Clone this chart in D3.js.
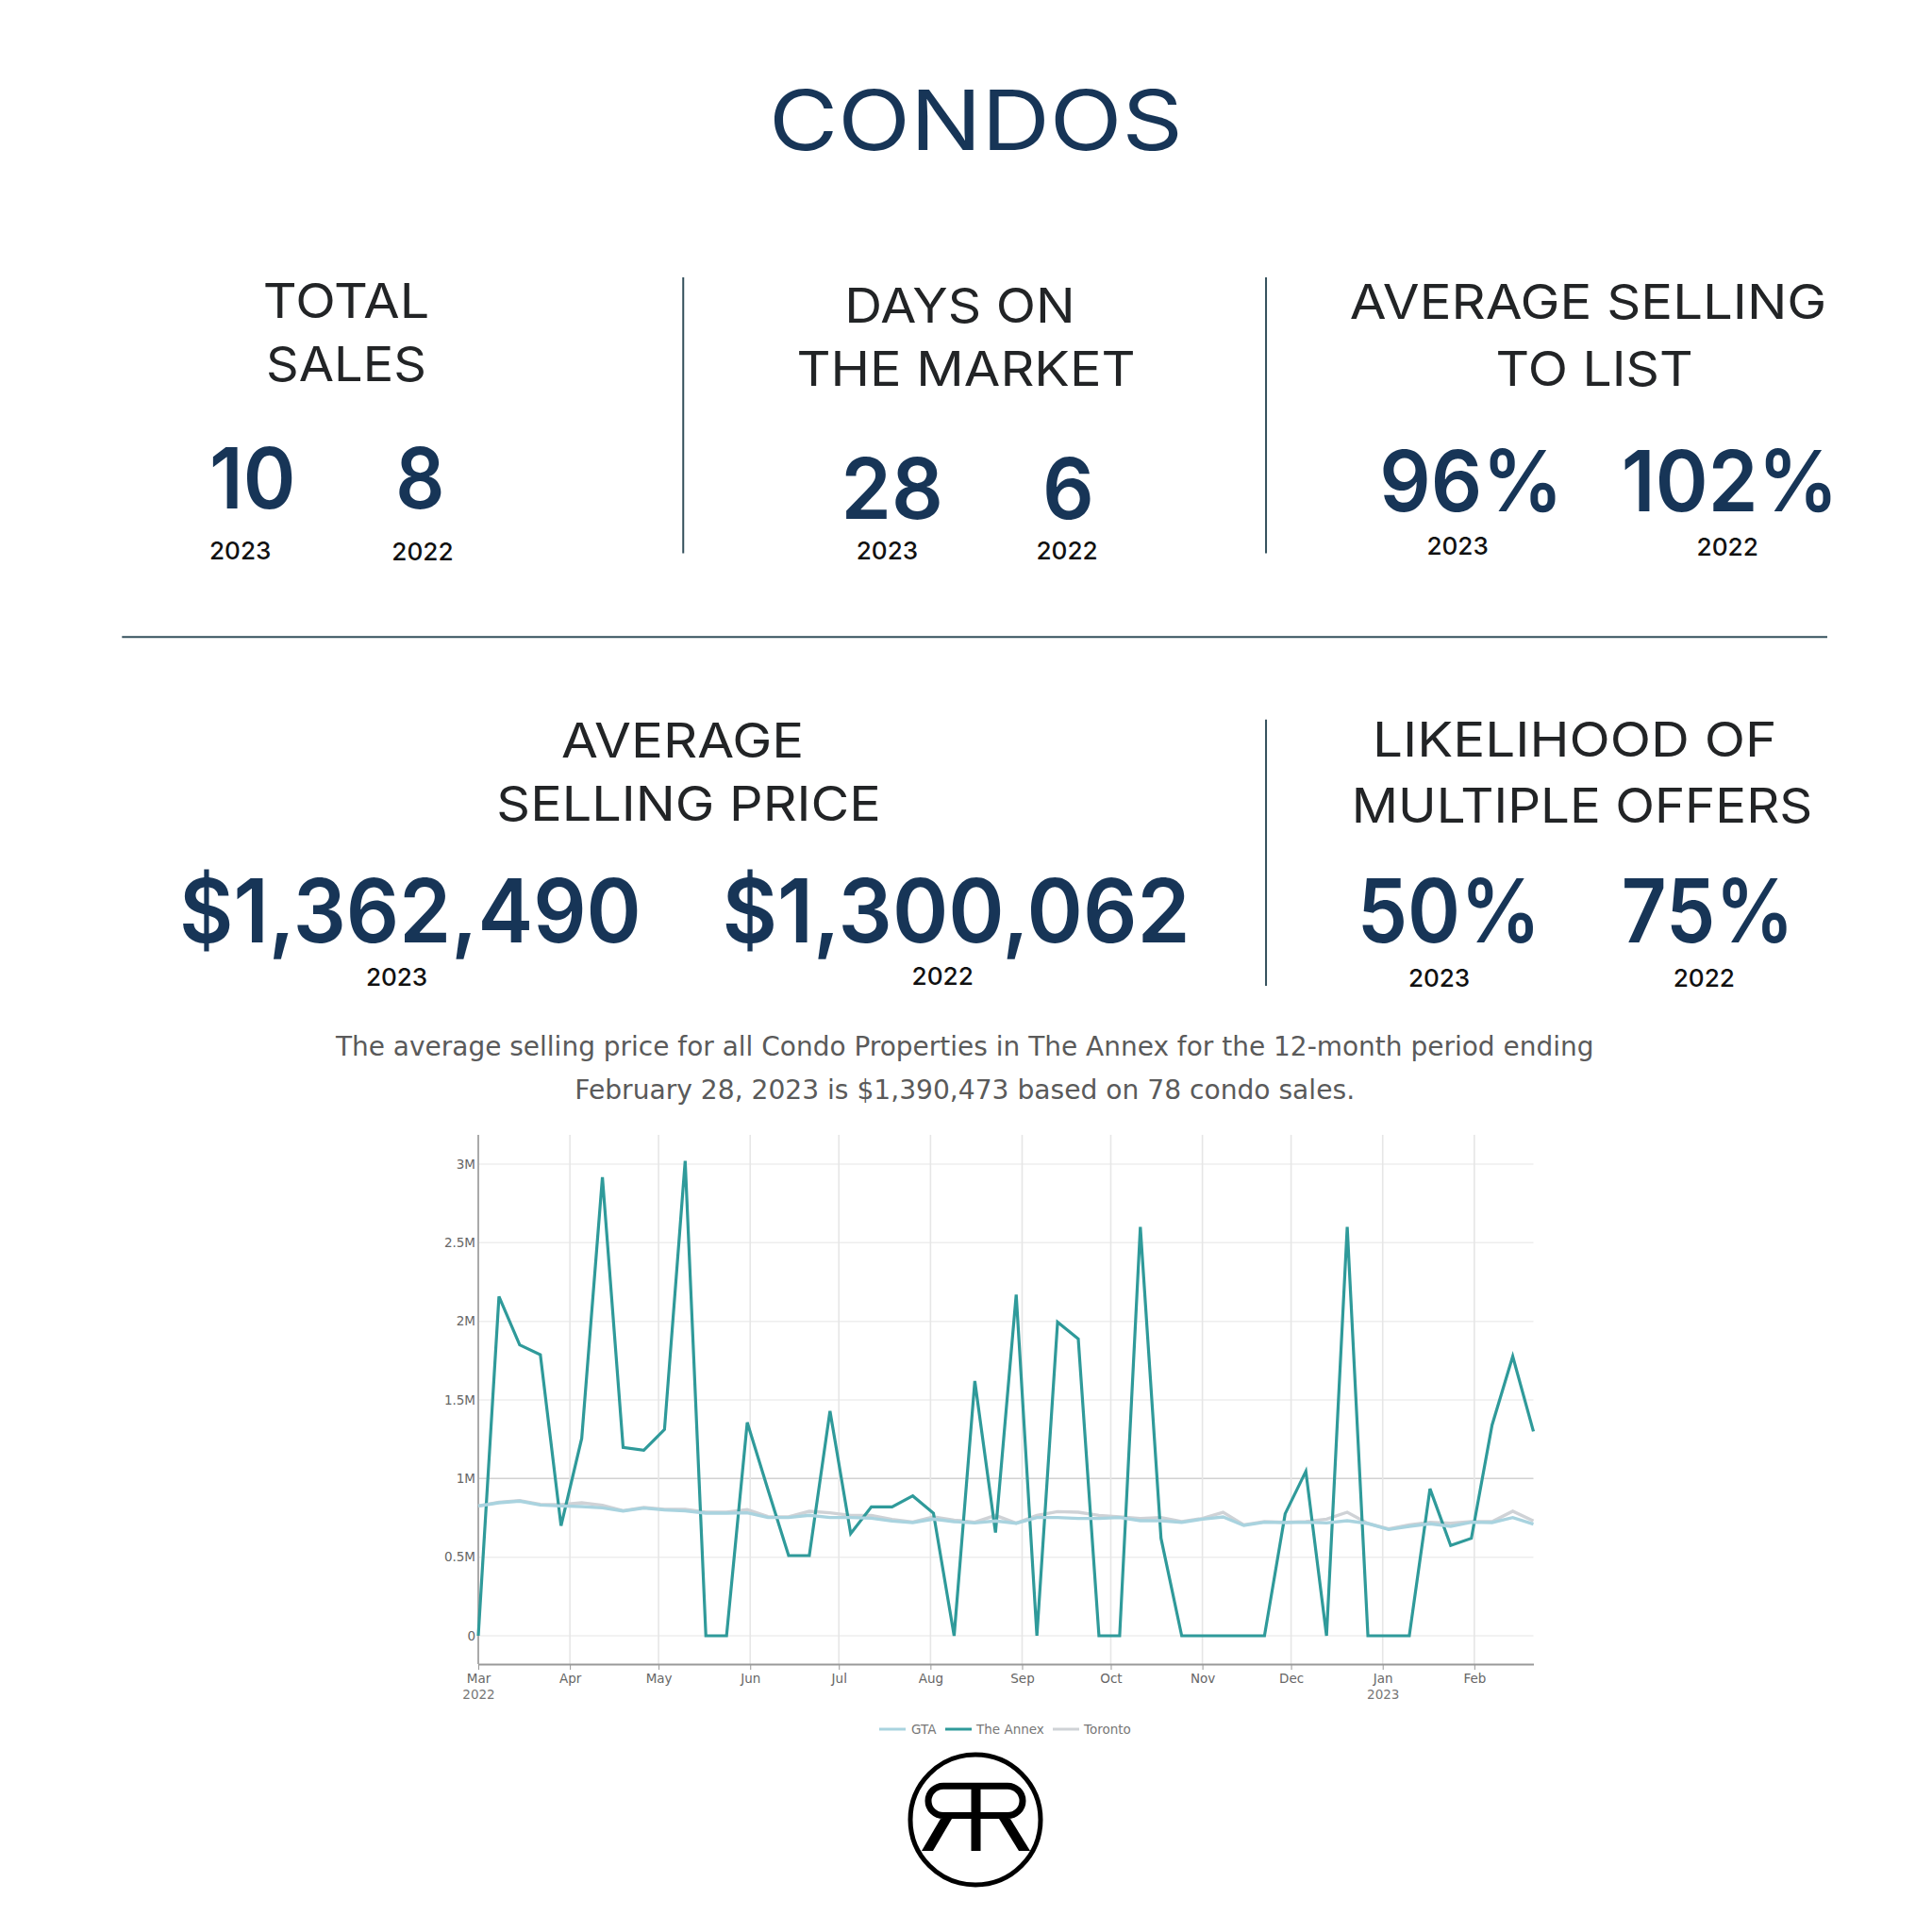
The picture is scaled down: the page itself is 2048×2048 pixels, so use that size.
<!DOCTYPE html>
<html>
<head>
<meta charset="utf-8">
<script src="https://cdn.jsdelivr.net/npm/d3@7"></script>
<style>
  html, body { margin: 0; background: #fff; }
</style>
</head>
<body>
<div id="chart"></div>
<script>
// weekly dates, Mar 1 2022 to Feb 21 2023
const startDate = new Date(2022, 2, 1);
const dates = d3.range(52).map((i) => d3.timeDay.offset(startDate, i * 7));

const annex = [
  0, 2.158, 1.85, 1.787, 0.7, 1.256, 2.917, 1.198, 1.18, 1.312, 3.02, 0, 0,
  1.357, 0.93, 0.51, 0.51, 1.43, 0.65, 0.82, 0.82, 0.89, 0.78, 0, 1.62, 0.657,
  2.17, 0, 1.995, 1.888, 0, 0, 2.6, 0.62, 0, 0, 0, 0, 0, 0.776, 1.046, 0, 2.6,
  0, 0, 0, 0.935, 0.574, 0.62, 1.34, 1.777, 1.3,
];
const gta = [
  0.826, 0.846, 0.856, 0.832, 0.826, 0.822, 0.814, 0.794, 0.812, 0.8, 0.794,
  0.78, 0.78, 0.782, 0.752, 0.752, 0.766, 0.752, 0.752, 0.748, 0.73, 0.72,
  0.742, 0.726, 0.718, 0.73, 0.716, 0.752, 0.752, 0.746, 0.746, 0.752, 0.732,
  0.732, 0.722, 0.742, 0.756, 0.702, 0.722, 0.72, 0.722, 0.718, 0.732, 0.714,
  0.676, 0.696, 0.712, 0.696, 0.722, 0.72, 0.752, 0.71,
];
const toronto = [
  0.826, 0.85, 0.86, 0.836, 0.834, 0.846, 0.83, 0.796, 0.816, 0.804, 0.804,
  0.786, 0.786, 0.802, 0.758, 0.756, 0.792, 0.782, 0.766, 0.766, 0.74, 0.724,
  0.756, 0.736, 0.722, 0.766, 0.716, 0.766, 0.79, 0.786, 0.766, 0.756, 0.746,
  0.752, 0.726, 0.746, 0.786, 0.706, 0.726, 0.722, 0.726, 0.742, 0.786, 0.714,
  0.68, 0.706, 0.722, 0.716, 0.726, 0.726, 0.792, 0.73,
];

const yTicks = [0, 0.5, 1, 1.5, 2, 2.5, 3];
const monthTicks = d3.timeMonth.range(new Date(2022, 2, 1), new Date(2023, 2, 1));

const legendNames = ["GTA", "The Annex", "Toronto"];
const colors = { gta: "#a9d3df", annex: "#2f9a9a", toronto: "#cfd2d6" };
const navy = "#173557";
const ink = "#222426";
const rule = "#34505c";

const k = 2048 / 1568;

const svg = d3
  .select("#chart")
  .append("svg")
  .attr("width", 2048)
  .attr("height", 2048)
  .style("display", "block");

// x, y are baseline centre and w the wanted width, all in 1568 space
function txt(str, cx, y, w, size, fill, weight) {
  svg
    .append("text")
    .attr("x", cx * k)
    .attr("y", y * k)
    .attr("text-anchor", "middle")
    .attr("font-family", "Inter, 'Open Sans', sans-serif")
    .attr("font-size", size)
    .attr("font-weight", weight)
    .attr("fill", fill)
    .attr("textLength", w * k)
    .attr("lengthAdjust", "spacingAndGlyphs")
    .text(str);
}

txt("CONDOS", 792, 122, 336, 88, navy, 400);

// section headings
txt("TOTAL", 281, 258, 135, 51, ink, 400);
txt("SALES", 281, 309, 130, 51, ink, 400);
txt("DAYS ON", 779, 262, 187, 51, ink, 400);
txt("THE MARKET", 784, 313, 275, 51, ink, 400);
txt("AVERAGE SELLING", 1289, 259, 387, 51, ink, 400);
txt("TO LIST", 1294, 313, 160, 51, ink, 400);
txt("AVERAGE", 554, 615, 197, 51, ink, 400);
txt("SELLING PRICE", 559, 666, 312, 51, ink, 400);
txt("LIKELIHOOD OF", 1278, 614, 328, 51, ink, 400);
txt("MULTIPLE OFFERS", 1284, 668, 374, 51, ink, 400);

// big numbers
txt("10", 205, 413, 70, 90, navy, 600);
txt("8", 341, 413, 40, 90, navy, 600);
txt("28", 724, 421, 83, 90, navy, 600);
txt("6", 867, 421, 42, 90, navy, 600);
txt("96%", 1194, 415, 149, 90, navy, 600);
txt("102%", 1404, 415, 176, 90, navy, 600);
txt("$1,362,490", 333, 765, 375, 94, navy, 600);
txt("$1,300,062", 776, 765, 380, 94, navy, 600);
txt("50%", 1176, 765, 149, 94, navy, 600);
txt("75%", 1386, 765, 140, 94, navy, 600);

// years under the numbers
txt("2023", 195, 454, 50, 26, "#111", 500);
txt("2022", 343, 455, 50, 26, "#111", 500);
txt("2023", 720, 454, 50, 26, "#111", 500);
txt("2022", 866, 454, 50, 26, "#111", 500);
txt("2023", 1183, 450, 50, 26, "#111", 500);
txt("2022", 1402, 451, 50, 26, "#111", 500);
txt("2023", 322, 800, 50, 26, "#111", 500);
txt("2022", 765, 799, 50, 26, "#111", 500);
txt("2023", 1168, 801, 50, 26, "#111", 500);
txt("2022", 1383, 801, 50, 26, "#111", 500);

// dividers
[
  [554.5, 225, 554.5, 449],
  [1027.5, 225, 1027.5, 449],
  [99, 517, 1483, 517],
  [1027.5, 584, 1027.5, 800],
].forEach((d) => {
  svg
    .append("line")
    .attr("x1", d[0] * k)
    .attr("y1", d[1] * k)
    .attr("x2", d[2] * k)
    .attr("y2", d[3] * k)
    .attr("stroke", rule)
    .attr("stroke-width", 2);
});

// sentence above the chart
const noteLines = [
  "The average selling price for all Condo Properties in The Annex for the 12-month period ending",
  "February 28, 2023 is $1,390,473 based on 78 condo sales.",
];
[
  [783, 857, 1021],
  [783, 892, 633],
].forEach((p, i) => {
  svg
    .append("text")
    .attr("x", p[0] * k)
    .attr("y", p[1] * k)
    .attr("text-anchor", "middle")
    .attr("font-family", "'DejaVu Sans', sans-serif")
    .attr("font-size", 28)
    .attr("fill", "#5a5a5a")
    .attr("textLength", p[2] * k)
    .attr("lengthAdjust", "spacingAndGlyphs")
    .text(noteLines[i]);
});

// line chart
const plotLeft = 507;
const plotRight = 1625.5;
const plotTop = 1203;
const plotBottom = 1764;

const xScale = d3
  .scaleTime()
  .domain([dates[0], dates[dates.length - 1]])
  .range([plotLeft, plotRight]);
const yScale = d3.scaleLinear().domain([0, 3]).range([1734, 1234]);

const chartFont = "'DejaVu Sans', Verdana, sans-serif";

svg
  .append("g")
  .selectAll("line")
  .data(yTicks)
  .enter()
  .append("line")
  .attr("x1", plotLeft)
  .attr("x2", plotRight)
  .attr("y1", (d) => yScale(d))
  .attr("y2", (d) => yScale(d))
  .attr("stroke", (d) => (d === 1 ? "#d2d2d2" : "#eeeeee"))
  .attr("stroke-width", 1.5);

svg
  .append("g")
  .selectAll("line")
  .data(monthTicks)
  .enter()
  .append("line")
  .attr("x1", (d) => xScale(d))
  .attr("x2", (d) => xScale(d))
  .attr("y1", plotTop)
  .attr("y2", plotBottom)
  .attr("stroke", "#e6e6e6")
  .attr("stroke-width", 1.6);

const xAxis = d3
  .axisBottom(xScale)
  .tickValues(monthTicks)
  .tickSize(6)
  .tickSizeOuter(0)
  .tickFormat(d3.timeFormat("%b"));

const xG = svg
  .append("g")
  .attr("transform", `translate(0, ${plotBottom})`)
  .call(xAxis);
xG.selectAll("text")
  .attr("font-family", chartFont)
  .attr("font-size", 13.5)
  .attr("fill", "#666")
  .attr("dy", "0.85em");
xG.select(".domain").attr("stroke", "#999").attr("stroke-width", 2);
xG.selectAll(".tick line").attr("stroke", "#999");
// year goes on a second row under Mar and Jan
xG.selectAll(".tick")
  .filter((d) => d.getMonth() === 2 || d.getMonth() === 0)
  .append("text")
  .attr("y", 27)
  .attr("dy", "0.71em")
  .attr("font-family", chartFont)
  .attr("font-size", 13.5)
  .attr("fill", "#777")
  .text((d) => d.getFullYear());

const yAxis = d3
  .axisLeft(yScale)
  .tickValues(yTicks)
  .tickSize(0)
  .tickPadding(3)
  .tickFormat((d) => (d === 0 ? "0" : d + "M"));

const yG = svg
  .append("g")
  .attr("transform", `translate(${plotLeft}, 0)`)
  .call(yAxis);
yG.select(".domain").remove();
yG.selectAll("text")
  .attr("font-family", chartFont)
  .attr("font-size", 13.5)
  .attr("fill", "#666");

svg
  .append("line")
  .attr("x1", plotLeft)
  .attr("x2", plotLeft)
  .attr("y1", plotTop)
  .attr("y2", plotBottom)
  .attr("stroke", "#aaa")
  .attr("stroke-width", 2);

const line = d3
  .line()
  .x((d, i) => xScale(dates[i]))
  .y((d) => yScale(d));

[
  [toronto, colors.toronto],
  [annex, colors.annex],
  [gta, colors.gta],
].forEach((s) => {
  svg
    .append("path")
    .attr("d", line(s[0]))
    .attr("fill", "none")
    .attr("stroke", s[1])
    .attr("stroke-width", s[0] === annex ? 3.2 : 3.4);
});

// legend
[
  [932, 966, colors.gta],
  [1002, 1035, colors.annex],
  [1116, 1149, colors.toronto],
].forEach((p, i) => {
  svg
    .append("line")
    .attr("x1", p[0])
    .attr("x2", p[0] + 28)
    .attr("y1", 1833)
    .attr("y2", 1833)
    .attr("stroke", p[2])
    .attr("stroke-width", 3);
  svg
    .append("text")
    .attr("x", p[1])
    .attr("y", 1838)
    .attr("font-family", chartFont)
    .attr("font-size", 13.5)
    .attr("fill", "#777")
    .text(legendNames[i]);
});

// RR logo
const logo = svg.append("g").attr("fill", "#000");
logo
  .append("circle")
  .attr("cx", 1034)
  .attr("cy", 1929)
  .attr("r", 69)
  .attr("fill", "none")
  .attr("stroke", "#000")
  .attr("stroke-width", 5);
logo
  .append("path")
  .attr("d", "M1000 1893.3H1068A16 15.6 0 0 1 1068 1924.5H1000A16 15.6 0 0 1 1000 1893.3Z")
  .attr("fill", "none")
  .attr("stroke", "#000")
  .attr("stroke-width", 7);
logo.append("rect").attr("x", 1029.5).attr("y", 1890).attr("width", 10).attr("height", 72);
logo.append("path").attr("d", "M997 1928H1009L989 1962H977Z");
logo.append("path").attr("d", "M1059 1928H1071L1092 1962H1080Z");
</script>
</body>
</html>
